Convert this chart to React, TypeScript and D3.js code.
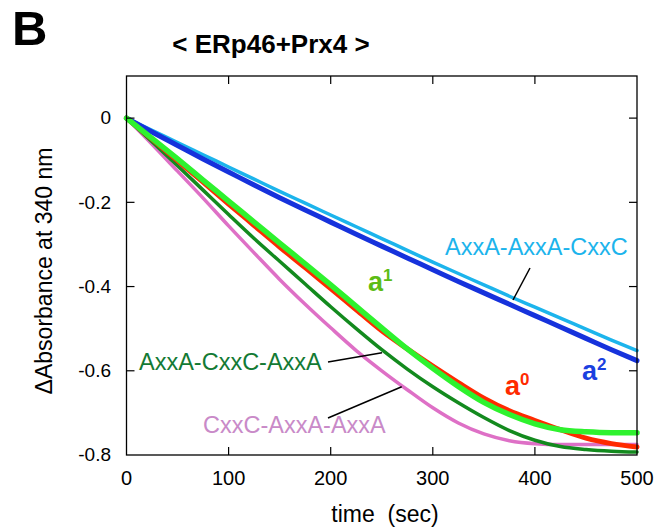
import React from "react";
import * as d3 from "d3";

const times = [0, 25, 50, 75, 100, 125, 150, 175, 200, 225, 250, 275, 300, 325, 350, 375, 400, 425, 450, 475, 500];

const cyanVals = [0, -0.029, -0.058, -0.087, -0.116, -0.145, -0.174, -0.202, -0.23, -0.258, -0.286, -0.314, -0.342, -0.369, -0.396, -0.423, -0.449, -0.475, -0.501, -0.527, -0.552];
const blueVals = [0, -0.033, -0.065, -0.097, -0.128, -0.159, -0.189, -0.218, -0.247, -0.276, -0.304, -0.332, -0.36, -0.388, -0.415, -0.442, -0.469, -0.496, -0.523, -0.55, -0.576];
const pinkVals = [0, -0.062, -0.126, -0.19, -0.256, -0.32, -0.383, -0.442, -0.498, -0.552, -0.6, -0.645, -0.688, -0.724, -0.75, -0.766, -0.773, -0.775, -0.775, -0.775, -0.775];
const darkGreenVals = [0, -0.056, -0.113, -0.171, -0.229, -0.286, -0.34, -0.394, -0.448, -0.5, -0.55, -0.596, -0.638, -0.676, -0.711, -0.742, -0.765, -0.78, -0.787, -0.791, -0.793];
const redVals = [0, -0.05, -0.101, -0.152, -0.204, -0.255, -0.306, -0.355, -0.405, -0.455, -0.505, -0.548, -0.589, -0.628, -0.665, -0.695, -0.718, -0.74, -0.76, -0.773, -0.781];
const greenVals = [0, -0.048, -0.097, -0.147, -0.197, -0.247, -0.297, -0.346, -0.396, -0.447, -0.498, -0.548, -0.594, -0.637, -0.675, -0.704, -0.726, -0.74, -0.745, -0.747, -0.747];

const xTicks = [0, 100, 200, 300, 400, 500];
const yTicks = [0, -0.2, -0.4, -0.6, -0.8];
const yTickLabels = ["0", "-0.2", "-0.4", "-0.6", "-0.8"];

const FONT = "'Liberation Sans', Arial, Helvetica, sans-serif";

export default function App() {
  const x = d3.scaleLinear().domain([0, 500]).range([126.5, 637]);
  const y = d3.scaleLinear().domain([-0.8, 0.1]).range([455, 76]);

  const line = d3
    .line<number>()
    .x((_, i) => x(times[i]))
    .y((d) => y(d))
    .curve(d3.curveMonotoneX);

  const series = [
    { vals: cyanVals, color: "#1cb4ec", w: 3.5 },
    { vals: blueVals, color: "#1632dc", w: 5 },
    { vals: pinkVals, color: "#de70c6", w: 3.5 },
    { vals: darkGreenVals, color: "#138a1e", w: 3.5 },
    { vals: redVals, color: "#ff2a00", w: 5 },
    { vals: greenVals, color: "#2ef22e", w: 5.5 },
  ];

  const x0 = x(0), x1 = x(500), yTop = y(0.1), yBot = y(-0.8);

  return (
    <svg width={669} height={529} style={{ position: "absolute", left: 0, top: 0, background: "#fff" }} fontFamily={FONT}>
      <rect width={669} height={529} fill="#fff" />
      <text x={12} y={45} fontSize={49} fontWeight="bold" fill="#000">B</text>
      <text x={271} y={53} fontSize={26} fontWeight="bold" textAnchor="middle" fill="#000">{"< ERp46+Prx4 >"}</text>

      {/* curves */}
      <g fill="none" strokeLinejoin="round" strokeLinecap="round">
        {series.map((s, i) => (
          <path key={i} d={line(s.vals) || ""} stroke={s.color} strokeWidth={s.w} />
        ))}
      </g>

      {/* frame */}
      <rect x={x0} y={yTop} width={x1 - x0} height={yBot - yTop} fill="none" stroke="#000" strokeWidth={1.3} />

      {/* x ticks */}
      {xTicks.map((t) => (
        <g key={"x" + t}>
          {t > 0 && t < 500 && (
            <>
              <line x1={x(t)} x2={x(t)} y1={yBot} y2={yBot - 8} stroke="#000" strokeWidth={1.2} />
              <line x1={x(t)} x2={x(t)} y1={yTop} y2={yTop + 8} stroke="#000" strokeWidth={1.2} />
            </>
          )}
          <text x={x(t)} y={485} fontSize={20} textAnchor="middle" fill="#000">{t}</text>
        </g>
      ))}

      {/* y ticks */}
      {yTicks.map((v, i) => (
        <g key={"y" + i}>
          {v > -0.8 && (
            <>
              <line x1={x0} x2={x0 + 8} y1={y(v)} y2={y(v)} stroke="#000" strokeWidth={1.2} />
              <line x1={x1} x2={x1 - 8} y1={y(v)} y2={y(v)} stroke="#000" strokeWidth={1.2} />
            </>
          )}
          <text x={111} y={y(v)} dy="0.33em" fontSize={19} textAnchor="end" fill="#000">{yTickLabels[i]}</text>
        </g>
      ))}

      {/* axis titles */}
      <text x={385} y={522} fontSize={23} textAnchor="middle" fill="#000" style={{ whiteSpace: "pre" }}>{"time  (sec)"}</text>
      <text transform={`translate(52, ${271}) rotate(-90)`} fontSize={23} textAnchor="middle" fill="#000">ΔAbsorbance at 340 nm</text>

      {/* annotations */}
      <text x={445} y={255} fontSize={23.5} fill="#1cb4ec">AxxA-AxxA-CxxC</text>
      <line x1={530} y1={268} x2={513} y2={300} stroke="#000" strokeWidth={1.5} />

      <text x={139} y={370} fontSize={23.5} fill="#137a34">AxxA-CxxC-AxxA</text>
      <line x1={328} y1={362} x2={382} y2={352.7} stroke="#000" strokeWidth={1.5} />

      <text x={203} y={433} fontSize={23.5} fill="#c98ac8">CxxC-AxxA-AxxA</text>
      <line x1={328} y1={418} x2={401.7} y2={386.7} stroke="#000" strokeWidth={1.5} />

      <text x={368} y={291} fontSize={27} fontWeight="bold" fill="#5cbc14">
        a<tspan fontSize={17} dy={-10}>1</tspan>
      </text>
      <text x={505} y={395} fontSize={27} fontWeight="bold" fill="#ff2a00">
        a<tspan fontSize={17} dy={-10}>0</tspan>
      </text>
      <text x={582} y={380} fontSize={27} fontWeight="bold" fill="#1a40e0">
        a<tspan fontSize={17} dy={-10}>2</tspan>
      </text>
    </svg>
  );
}
